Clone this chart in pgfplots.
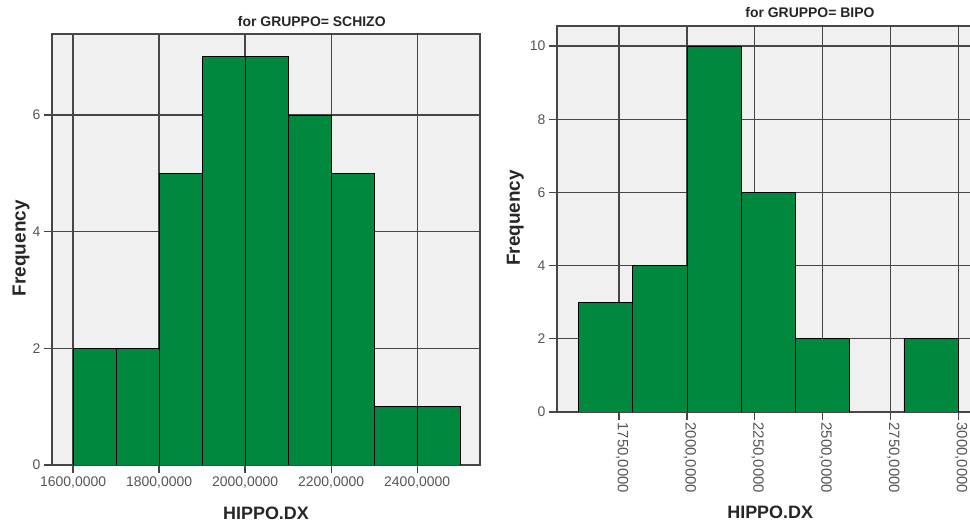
\documentclass[border=0pt]{standalone}
\usepackage{fontspec}
\setmainfont{Liberation Sans}
\usepackage{pgfplots}
\pgfplotsset{compat=1.18}
\definecolor{barg}{RGB}{0,137,62}
\definecolor{bgc}{RGB}{240,240,240}
\definecolor{gridc}{RGB}{70,70,70}
\definecolor{tickc}{RGB}{85,85,85}
\pgfplotsset{
  spss/.style={
    scale only axis,
    anchor=south west,
    axis background/.style={fill=bgc},
    axis line style={draw=gridc, line width=1.3pt},
    grid=major,
    grid style={draw=gridc, line width=1.3pt},
    tick pos=left,
    tick align=outside,
    major tick length=8bp,
    tick style={draw=gridc, line width=1.3pt},
    ymin=0,
    ytick distance=2,
    ticklabel style={font=\fontsize{14}{16}\selectfont, text=tickc},
    /pgf/number format/assume math mode=true,
    every axis title/.style={at={(0.5,1)}, anchor=center, font=\bfseries\fontsize{14}{16}\selectfont, text=black!85},
    xlabel style={font=\bfseries\fontsize{18}{20}\selectfont, text=black!85, anchor=center},
    ylabel style={font=\bfseries\fontsize{19}{21}\selectfont, text=black!85, anchor=center, rotate=0},
  }
}
\begin{document}
\begin{tikzpicture}[x=1bp,y=1bp]
\path[use as bounding box] (0,0) rectangle (970,522);
\begin{axis}[spss,
  at={(52bp,57bp)}, width=428bp, height=431bp,
  xmin=1551, xmax=2546, ymax=7.39,
  xtick={1600,1800,2000,2200,2400},
  xticklabels={{1600,0000},{1800,0000},{2000,0000},{2200,0000},{2400,0000}},
  ytick={0,2,4,6},
  title={for GRUPPO= SCHIZO},
  title style={at={(axis description cs:0.607,1.028)}},
  xlabel={HIPPO.DX},
  xlabel style={at={(axis description cs:0.5,-0.111)}},
  ylabel={Frequency},
  ylabel style={at={(axis description cs:-0.072,0.503)}},
]
\addplot[ybar interval, fill=barg, draw=black, line width=0.8pt] coordinates {
(1600,2) (1700,2) (1800,5) (1900,7) (2000,7) (2100,6) (2200,5) (2300,1) (2400,1) (2500,1)
};
\end{axis}
\begin{axis}[spss,
  at={(557bp,110bp)}, width=418bp, height=386bp,
  xmin=1521, xmax=3062, ymax=10.55,
  xtick={1750,2000,2250,2500,2750,3000},
  xticklabels={{1750,0000},{2000,0000},{2250,0000},{2500,0000},{2750,0000},{3000,0000}},
  xticklabel style={rotate=-90, anchor=west, font=\fontsize{15}{17}\selectfont, xshift=-1bp, yshift=3bp},
  ytick={0,2,4,6,8,10},
  title={for GRUPPO= BIPO},
  title style={at={(axis description cs:0.605,1.034)}},
  xlabel={HIPPO.DX},
  xlabel style={at={(axis description cs:0.51,-0.259)}},
  ylabel={Frequency},
  ylabel style={at={(axis description cs:-0.10,0.503)}},
]
\addplot[ybar interval, fill=barg, draw=black, line width=0.8pt] coordinates {
(1600,3) (1800,4) (2000,10) (2200,6) (2400,2) (2600,0) (2800,2) (3000,2)
};
\end{axis}
\end{tikzpicture}
\end{document}
